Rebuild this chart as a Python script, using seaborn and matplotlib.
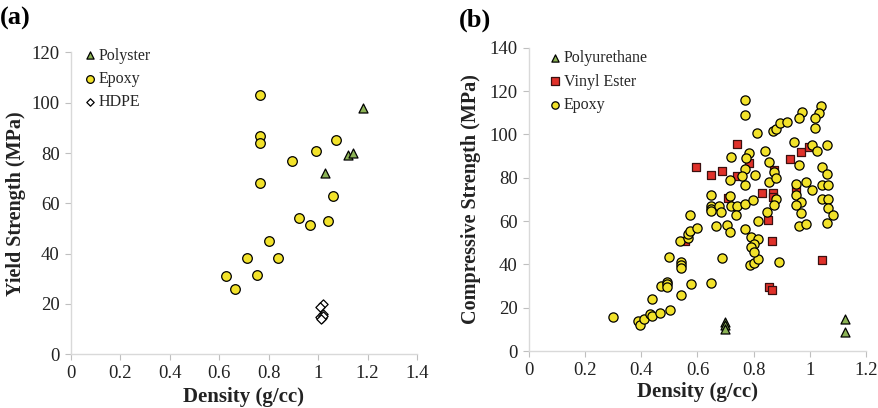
import matplotlib
matplotlib.use("Agg")
import matplotlib.pyplot as plt
import seaborn as sns
import pandas as pd
from matplotlib.ticker import FuncFormatter, MultipleLocator

# panel (a): yield strength vs density
polyster_x = [1.18, 1.12, 1.141, 1.03]
polyster_y = [98.0, 79.2, 79.9, 72.0]
epoxy_a_x = [0.767, 0.767, 0.767, 0.767, 0.893, 0.991, 1.073, 1.06, 0.925,
             0.969, 1.041, 0.803, 0.712, 0.837, 0.628, 0.753, 0.666]
epoxy_a_y = [103.1, 86.9, 84.1, 68.1, 76.7, 81.0, 85.1, 63.1, 54.2,
             51.3, 53.0, 44.9, 38.2, 38.2, 31.1, 31.5, 26.1]
hdpe_x = [1.022, 1.006, 1.018, 1.012, 1.015, 1.008, 1.02, 1.01]
hdpe_y = [20.0, 18.9, 16.0, 15.0, 14.5, 14.8, 15.3, 14.2]

# panel (b): compressive strength vs density
pu_x = [0.699, 0.699, 0.699, 1.127, 1.127]
pu_y = [13.4, 11.8, 10.2, 14.7, 8.9]
vinyl_x = [1.045, 0.855, 0.866, 0.829, 0.868, 0.868, 0.709, 0.851, 0.865, 0.555,
           0.739, 0.784, 0.594, 0.648, 0.688, 0.741, 0.873, 0.969, 0.997, 0.930, 0.950]
vinyl_y = [42.1, 29.4, 28.1, 73.1, 73.1, 71.1, 70.8, 60.5, 50.7, 50.6,
           95.4, 86.9, 84.9, 81.4, 83.1, 80.6, 83.4, 91.7, 94.1, 88.5, 74.5]
epoxy_b_x = [0.30, 0.388, 0.395, 0.409, 0.431, 0.439, 0.439, 0.466, 0.469, 0.492,
             0.492, 0.492, 0.503, 0.499, 0.542, 0.542, 0.542, 0.542, 0.578, 0.649,
             0.689, 0.788, 0.803, 0.816, 0.889,
             0.538, 0.565, 0.567, 0.573, 0.597, 0.573,
             0.648, 0.716, 0.648, 0.648, 0.648, 0.675, 0.684, 0.718, 0.740, 0.769,
             0.797, 0.738, 0.716, 0.769, 0.855, 0.848, 0.815, 0.667, 0.705, 0.716,
             0.769, 0.789, 0.817, 0.802, 0.791, 0.802,
             0.769, 0.769, 0.811, 0.870, 0.879, 0.893, 0.784, 0.773, 0.719, 0.84,
             0.855, 0.769, 0.757, 0.805, 0.874, 0.879, 0.879, 0.871,
             1.040, 1.033, 1.018, 1.018, 0.972, 0.963, 0.917, 0.943, 1.007, 1.027,
             1.060, 0.962, 1.044, 1.060,
             0.950, 0.986, 1.007, 1.045, 1.065, 0.95, 0.967, 0.95, 1.045, 1.065,
             1.065, 1.083, 0.967, 0.961, 0.986, 1.060]
epoxy_b_y = [15.7, 14.0, 12.1, 15.0, 16.9, 16.0, 24.0, 17.5, 30.1, 31.9,
             31.0, 29.6, 18.8, 43.2, 41.0, 39.6, 38.1, 25.8, 31.0, 31.3,
             42.9, 39.6, 40.7, 42.3, 40.9,
             51.0, 52.2, 53.8, 55.6, 57.0, 63.0,
             72.2, 71.4, 66.8, 65.6, 64.4, 66.8, 64.1, 66.8, 66.8, 68.0,
             69.7, 63.0, 78.8, 76.8, 77.9, 64.2, 60.2, 57.5, 58.2, 54.8,
             56.2, 52.7, 51.5, 49.6, 47.8, 45.8,
             116.0, 109.0, 100.8, 101.4, 102.3, 105.2, 91.6, 89.3, 89.5, 92.3,
             87.2, 84.2, 80.8, 81.1, 82.6, 79.9, 70.0, 67.6,
             113.2, 110.0, 107.5, 103.1, 110.3, 107.4, 105.7, 96.3, 95.2, 92.3,
             95.2, 86.0, 84.9, 81.9,
             77.0, 78.0, 74.5, 76.8, 76.8, 71.9, 69.0, 67.3, 70.3, 70.3,
             65.9, 62.7, 63.5, 57.6, 58.8, 59.1]

yellow = "#F2E22A"
green = "#8CB356"
red = "#E0312A"
spine_col = "#D9D9D9"
text_col = "#222222"

sns.set_style("white")
plt.rcParams["font.family"] = ["Liberation Serif", "DejaVu Serif"]

fig = plt.figure(figsize=(8.79, 4.08), dpi=100)
ax_a = fig.add_axes([0.0804, 0.1316, 0.394, 0.740])
ax_b = fig.add_axes([0.6018, 0.1397, 0.3834, 0.7434])


def style_axis(ax, xmax, ymax, ystep):
    ax.set_xlim(0, xmax)
    ax.set_ylim(0, ymax)
    ax.xaxis.set_major_locator(MultipleLocator(0.2))
    ax.yaxis.set_major_locator(MultipleLocator(ystep))
    ax.xaxis.set_major_formatter(FuncFormatter(lambda v, p: f"{v:g}"))
    ax.yaxis.set_major_formatter(FuncFormatter(lambda v, p: f"{v:g}"))
    for side in ["top", "right"]:
        ax.spines[side].set_visible(False)
    for side in ["left", "bottom"]:
        ax.spines[side].set_color(spine_col)
        ax.spines[side].set_linewidth(1.0)
    ax.tick_params(axis="both", which="major", direction="out", length=4,
                   width=0.8, color="#BFBFBF", labelsize=13.5, labelcolor=text_col,
                   bottom=True, left=True, pad=4)


# panel (a)
df_poly = pd.DataFrame({"Density": polyster_x, "Strength": polyster_y})
df_ep_a = pd.DataFrame({"Density": epoxy_a_x, "Strength": epoxy_a_y})
df_hdpe = pd.DataFrame({"Density": hdpe_x, "Strength": hdpe_y})

sns.scatterplot(data=df_poly, x="Density", y="Strength", ax=ax_a, marker="^",
                s=42, color=green, edgecolor="black", linewidth=0.9, label="Polyster", zorder=3)
sns.scatterplot(data=df_ep_a, x="Density", y="Strength", ax=ax_a, marker="o",
                s=48, color=yellow, edgecolor="black", linewidth=0.9, label="Epoxy", zorder=3)
sns.scatterplot(data=df_hdpe, x="Density", y="Strength", ax=ax_a, marker="D",
                s=22, color="white", edgecolor="black", linewidth=0.9, label="HDPE", zorder=3)
style_axis(ax_a, 1.4, 120, 20)
ax_a.set_xlabel("Density (g/cc)", fontsize=15, fontweight="bold", color=text_col, labelpad=3)
ax_a.set_ylabel("Yield Strength (MPa)", fontsize=14.5, fontweight="bold", color=text_col, labelpad=4)
ax_a.legend(loc="upper left", bbox_to_anchor=(0.0, 1.053), frameon=False,
            fontsize=11.5, handletextpad=0.05, labelspacing=0.45, borderpad=0.2,
            handlelength=1.0, markerscale=0.8)
fig.text(0.0, 0.955, "(a)", fontsize=19, fontweight="bold", color="black", va="center")

# panel (b)
df_pu = pd.DataFrame({"Density": pu_x, "Strength": pu_y})
df_vinyl = pd.DataFrame({"Density": vinyl_x, "Strength": vinyl_y})
df_ep_b = pd.DataFrame({"Density": epoxy_b_x, "Strength": epoxy_b_y})

sns.scatterplot(data=df_pu, x="Density", y="Strength", ax=ax_b, marker="^",
                s=42, color=green, edgecolor="black", linewidth=0.9, label="Polyurethane", zorder=3)
sns.scatterplot(data=df_vinyl, x="Density", y="Strength", ax=ax_b, marker="s",
                s=40, color=red, edgecolor="#3A1010", linewidth=0.9, label="Vinyl Ester", zorder=3)
sns.scatterplot(data=df_ep_b, x="Density", y="Strength", ax=ax_b, marker="o",
                s=44, color=yellow, edgecolor="black", linewidth=0.9, label="Epoxy", zorder=4)
style_axis(ax_b, 1.2, 140, 20)
ax_b.set_xlabel("Density (g/cc)", fontsize=15, fontweight="bold", color=text_col, labelpad=2)
ax_b.set_ylabel("Compressive Strength (MPa)", fontsize=14.5, fontweight="bold", color=text_col, labelpad=6)
ax_b.legend(loc="upper left", bbox_to_anchor=(0.02, 1.028), frameon=False,
            fontsize=11.5, handletextpad=0.05, labelspacing=0.45, borderpad=0.2,
            handlelength=1.0, markerscale=0.8)
fig.text(0.522, 0.95, "(b)", fontsize=19, fontweight="bold", color="black", va="center")

fig.savefig("out.png", dpi=100)
